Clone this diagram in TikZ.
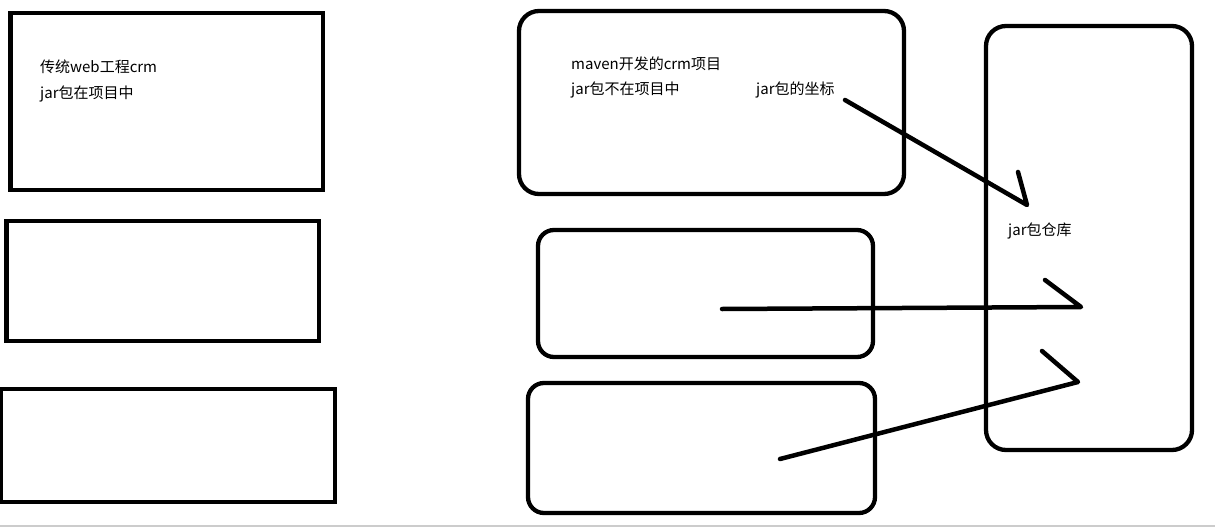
\documentclass[tikz,border=0pt]{standalone}
\usepackage{fontspec}
\setmainfont{Noto Sans CJK SC}
\begin{document}
\begin{tikzpicture}[x=1pt, y=-1pt,
    box/.style={draw, line width=4.6pt, inner sep=0pt},
    roundbox/.style={box, line width=4.3pt, rounded corners=20pt},
    note/.style={anchor=base west, inner sep=0pt, font=\fontsize{15}{18}\selectfont},
    pen/.style={line width=4.5pt, line cap=round, line join=round}]
    \useasboundingbox (0,0) rectangle (1215,527);

    % Traditional web project (left column)
    \node[box, minimum width=312.5, minimum height=177] (trad) at (166.75,101.5) {};
    \node[note] (tradName) at (40,73) {传统web工程crm};
    \node[note] (tradJar) at (40,98) {jar包在项目中};
    \node[box, minimum width=312.5, minimum height=120] (tradB) at (162.75,281) {};
    \node[box, minimum width=334, minimum height=113] (tradC) at (168,445.5) {};

    % Maven projects (middle column)
    \node[roundbox, minimum width=385, minimum height=183] (mvn) at (711.5,102.5) {};
    \node[note] (mvnName) at (571,70) {maven开发的crm项目};
    \node[note] (mvnJar) at (571,95) {jar包不在项目中};
    \node[note] (mvnCoord) at (756,95) {jar包的坐标};
    \node[roundbox, rounded corners=16pt, minimum width=335, minimum height=127] (mvnB) at (705.5,293.5) {};
    \node[roundbox, rounded corners=16pt, minimum width=347, minimum height=130] (mvnC) at (701.5,448) {};

    % Jar repository (right)
    \node[roundbox, minimum width=206, minimum height=424] (repo) at (1089,238) {};
    \node[note] (repoName) at (1008,235) {jar包仓库};

    % Hand-drawn arrows into the repository
    \coordinate (startA) at (845,100);
    \coordinate (tipA) at (1027,205);
    \coordinate (wingA) at (1018,172);
    \coordinate (startB) at (722,309);
    \coordinate (tipB) at (1081,307);
    \coordinate (wingB) at (1045,280);
    \coordinate (startC) at (780,459);
    \coordinate (tipC) at (1078,382);
    \coordinate (wingC) at (1042,351);
    \draw[pen] (startA) -- (tipA) -- (wingA);
    \draw[pen] (startB) -- (tipB) -- (wingB);
    \draw[pen] (startC) -- (tipC) -- (wingC);

    % Window edge
    \draw[black!20, line width=2pt] (0,526) -- (1215,526);
\end{tikzpicture}
\end{document}
